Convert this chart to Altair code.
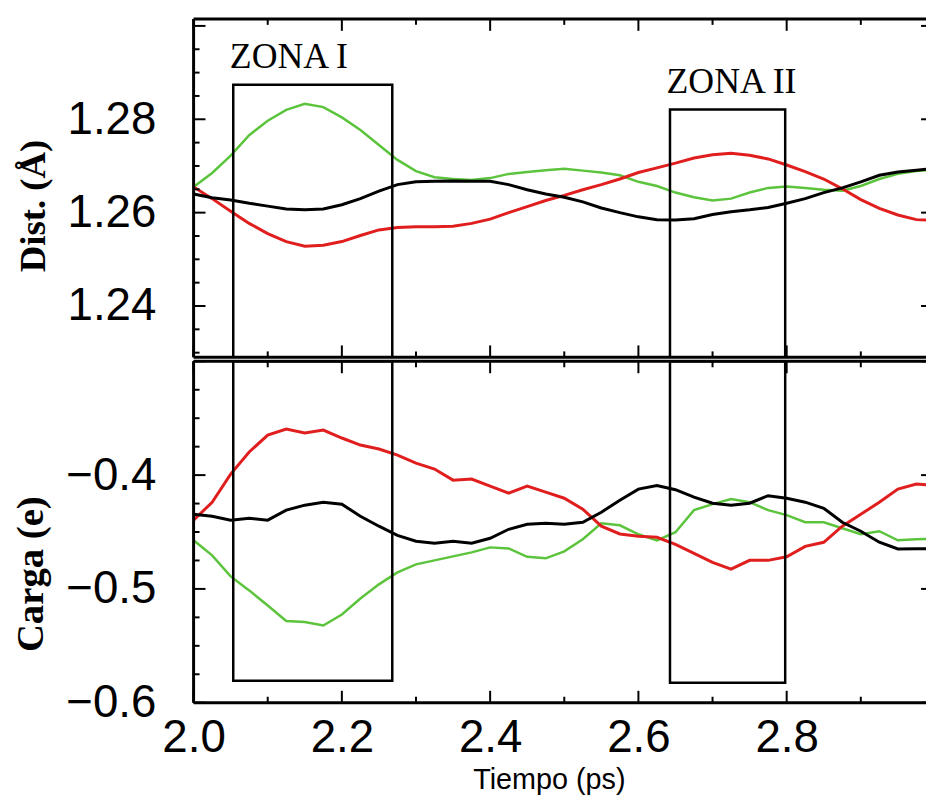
import altair as alt
import pandas as pd

# ---------------- data ----------------
# the last sample is read at the right edge of the picture (t = 2.988)
T = [2.000, 2.025, 2.050, 2.075, 2.100, 2.125, 2.150, 2.175, 2.200, 2.225,
     2.250, 2.275, 2.300, 2.325, 2.350, 2.375, 2.400, 2.425, 2.450, 2.475,
     2.500, 2.525, 2.550, 2.575, 2.600, 2.625, 2.650, 2.675, 2.700, 2.725,
     2.750, 2.775, 2.800, 2.825, 2.850, 2.875, 2.900, 2.925, 2.950, 2.975, 2.988]

DIST_NEGRO = [1.2640, 1.2632, 1.2627, 1.2620, 1.2614, 1.2608, 1.2606, 1.2608, 1.2617, 1.2630,
              1.2646, 1.2660, 1.2666, 1.2667, 1.2668, 1.2667, 1.2667, 1.2660, 1.2649, 1.2640,
              1.2633, 1.2623, 1.2610, 1.2600, 1.2591, 1.2585, 1.2584, 1.2587, 1.2596, 1.2602,
              1.2606, 1.2611, 1.2620, 1.2630, 1.2643, 1.2653, 1.2666, 1.2680, 1.2687, 1.2691, 1.2693]
DIST_ROJO = [1.2655, 1.2630, 1.2603, 1.2577, 1.2555, 1.2538, 1.2528, 1.2530, 1.2538, 1.2551,
             1.2563, 1.2568, 1.2570, 1.2570, 1.2571, 1.2577, 1.2586, 1.2600, 1.2613, 1.2626,
             1.2637, 1.2649, 1.2660, 1.2672, 1.2686, 1.2696, 1.2706, 1.2717, 1.2724, 1.2727,
             1.2723, 1.2715, 1.2702, 1.2688, 1.2672, 1.2651, 1.2628, 1.2609, 1.2595, 1.2585, 1.2584]
DIST_VERDE = [1.2655, 1.2685, 1.2722, 1.2766, 1.2797, 1.2820, 1.2833, 1.2826, 1.2804, 1.2777,
              1.2745, 1.2713, 1.2689, 1.2676, 1.2672, 1.2670, 1.2674, 1.2683, 1.2687, 1.2691,
              1.2694, 1.2690, 1.2686, 1.2680, 1.2666, 1.2657, 1.2643, 1.2633, 1.2626, 1.2630,
              1.2643, 1.2653, 1.2656, 1.2653, 1.2649, 1.2647, 1.2657, 1.2672, 1.2683, 1.2689, 1.2691]

CARGA_NEGRO = [-0.4344, -0.4361, -0.4396, -0.4379, -0.4396, -0.4308, -0.4264, -0.4238, -0.4256, -0.4361,
               -0.4449, -0.4529, -0.4581, -0.4599, -0.4581, -0.4599, -0.4555, -0.4476, -0.4432, -0.4423,
               -0.4432, -0.4414, -0.4326, -0.4220, -0.4123, -0.4091, -0.4128, -0.4194, -0.4247, -0.4264,
               -0.4247, -0.4181, -0.4203, -0.4238, -0.4291, -0.4414, -0.4493, -0.4590, -0.4649, -0.4647, -0.4647]
CARGA_ROJO = [-0.4396, -0.4238, -0.3991, -0.3797, -0.3648, -0.3595, -0.3630, -0.3604, -0.3674, -0.3736,
              -0.3771, -0.3824, -0.3894, -0.3947, -0.4044, -0.4035, -0.4097, -0.4159, -0.4097, -0.4150,
              -0.4203, -0.4300, -0.4449, -0.4517, -0.4537, -0.4546, -0.4608, -0.4687, -0.4766, -0.4826,
              -0.4749, -0.4749, -0.4718, -0.4626, -0.4590, -0.4449, -0.4344, -0.4238, -0.4123, -0.4079, -0.4085]
CARGA_VERDE = [-0.4573, -0.4705, -0.4890, -0.5013, -0.5145, -0.5282, -0.5291, -0.5322, -0.5225, -0.5084,
               -0.4960, -0.4855, -0.4784, -0.4749, -0.4714, -0.4679, -0.4635, -0.4644, -0.4718, -0.4731,
               -0.4670, -0.4564, -0.4423, -0.4441, -0.4520, -0.4573, -0.4502, -0.4308, -0.4255, -0.4211,
               -0.4238, -0.4308, -0.4352, -0.4414, -0.4414, -0.4467, -0.4520, -0.4493, -0.4573, -0.4564, -0.4561]

ZONA_NOMBRE = ["ZONA I", "ZONA II"]
ZONA_INICIO = [2.0535, 2.6426]
ZONA_FIN = [2.268, 2.798]
ZONA_TOPE = [1.2874, 1.2821]       # top of box (Dist. scale)
ZONA_FONDO = [-0.5806, -0.5824]    # bottom of box (Carga scale)
ZONA_TEXTO_X = [2.1285, 2.7256]
ZONA_TEXTO_Y = [1.2910, 1.2857]

X_LABELS = [2.0, 2.2, 2.4, 2.6, 2.8]
X_MAJOR = [2.0, 2.2, 2.4, 2.6, 2.8]
X_MINOR = [2.1, 2.3, 2.5, 2.7, 2.9]
Y1_LABELS = [1.24, 1.26, 1.28]
Y1_MAJOR = [1.24, 1.26, 1.28, 1.30]
Y1_MINOR = [1.230, 1.235, 1.245, 1.250, 1.255, 1.265, 1.270, 1.275, 1.285, 1.290, 1.295]
Y2_LABELS = [-0.6, -0.5, -0.4]
Y2_MAJOR = [-0.6, -0.5, -0.4, -0.3]
Y2_MINOR = [-0.575, -0.55, -0.525, -0.475, -0.45, -0.425, -0.375, -0.35, -0.325]

SERIES = ["verde", "rojo", "negro"]
COLORES = {"verde": "#5cc43c", "rojo": "#e01e1e", "negro": "#000000"}
GROSOR = {"verde": 2.5, "rojo": 3, "negro": 3}

# ---------------- layout ----------------
W, H1, H2 = 738, 341, 344
X_MAX = 2.0 + W / 747.0          # the original axis runs past the right edge of the picture
xscale = alt.Scale(domain=[2.0, X_MAX], nice=False, zero=False)
y1scale = alt.Scale(domain=[1.229, 1.3015], nice=False, zero=False)
y2scale = alt.Scale(domain=[-0.6, -0.3], nice=False, zero=False)

dist = pd.DataFrame({"t": T, "negro": DIST_NEGRO, "rojo": DIST_ROJO, "verde": DIST_VERDE})
carga = pd.DataFrame({"t": T, "negro": CARGA_NEGRO, "rojo": CARGA_ROJO, "verde": CARGA_VERDE})
zonas = pd.DataFrame({"nombre": ZONA_NOMBRE, "x0": ZONA_INICIO, "x1": ZONA_FIN,
                      "tope": ZONA_TOPE, "fondo": ZONA_FONDO,
                      "tx": ZONA_TEXTO_X, "ty": ZONA_TEXTO_Y,
                      "ymin1": [1.229, 1.229], "ymax2": [-0.3, -0.3]})
one = pd.DataFrame({"k": [0]})

y1axis = alt.Axis(values=Y1_LABELS, format=".2f", labelFont="Liberation Sans", labelFontSize=46,
                  labelColor="black", labelPadding=38, ticks=False, tickSize=0, domain=False,
                  grid=False, title="Dist. (Å)", titleFont="Liberation Serif", titleFontWeight="bold",
                  titleFontSize=37, titleColor="black", titleAngle=270, titleX=-161, titleY=188,
                  titleAlign="center", titleBaseline="middle")
y2axis = alt.Axis(values=Y2_LABELS, format=".1f", labelFont="Liberation Sans", labelFontSize=46,
                  labelColor="black", labelPadding=38, ticks=False, tickSize=0, domain=False,
                  grid=False, title="Carga (e)", titleFont="Liberation Serif", titleFontWeight="bold",
                  titleFontSize=39, titleColor="black", titleAngle=270, titleX=-164, titleY=214,
                  titleAlign="center", titleBaseline="middle")
x2axis = alt.Axis(values=X_LABELS, format=".1f", labelFont="Liberation Sans", labelFontSize=46,
                  labelColor="black", labelPadding=13, labelFlush=False, labelOverlap=False,
                  ticks=False, tickSize=0, domain=False, grid=False, title="Tiempo (ps)",
                  titleFont="Liberation Sans", titleFontSize=29, titleFontWeight="normal",
                  titleColor="black", titleX=358, titleY=86, titleBaseline="alphabetic",
                  titleAlign="center")


def panel(df, yscale, yaxis, xaxis, H, ymajor, yminor, rect_y, rect_y2, with_text):
    layers = []
    for s in SERIES:
        layers.append(
            alt.Chart(df).mark_line(color=COLORES[s], strokeWidth=GROSOR[s], clip=True).encode(
                x=alt.X("t:Q", scale=xscale, axis=xaxis),
                y=alt.Y(f"{s}:Q", scale=yscale, axis=yaxis),
            )
        )
    # zone boxes
    layers.append(
        alt.Chart(zonas).mark_rect(fillOpacity=0, stroke="black", strokeWidth=2.5, clip=True).encode(
            x=alt.X("x0:Q", scale=xscale, axis=xaxis), x2="x1:Q",
            y=alt.Y(f"{rect_y}:Q", scale=yscale, axis=yaxis), y2=f"{rect_y2}:Q",
        )
    )
    if with_text:
        layers.append(
            alt.Chart(zonas).mark_text(font="Liberation Serif", fontSize=36, align="center",
                                       baseline="alphabetic", color="black").encode(
                x=alt.X("tx:Q", scale=xscale, axis=xaxis),
                y=alt.Y("ty:Q", scale=yscale, axis=yaxis),
                text="nombre:N",
            )
        )
    # inward ticks on x (top and bottom edges)
    for vals, L in ((X_MAJOR, 12), (X_MINOR, 6)):
        d = pd.DataFrame({"t": vals})
        base = alt.Chart(d).mark_rule(color="black", strokeWidth=2)
        layers.append(base.encode(x=alt.X("t:Q", scale=xscale, axis=xaxis), y=alt.value(0), y2=alt.value(L)))
        layers.append(base.encode(x=alt.X("t:Q", scale=xscale, axis=xaxis), y=alt.value(H), y2=alt.value(H - L)))
    # inward ticks on y (left edge; only the tail of the major ones shows on the right edge)
    for vals, L in ((ymajor, 12), (yminor, 6)):
        d = pd.DataFrame({"v": vals})
        base = alt.Chart(d).mark_rule(color="black", strokeWidth=2)
        layers.append(base.encode(y=alt.Y("v:Q", scale=yscale, axis=yaxis), x=alt.value(0), x2=alt.value(L)))
    d = pd.DataFrame({"v": ymajor})
    layers.append(alt.Chart(d).mark_rule(color="black", strokeWidth=2).encode(
        y=alt.Y("v:Q", scale=yscale, axis=yaxis), x=alt.value(W - 5), x2=alt.value(W)))
    # frame: top, bottom and left (the right side is cut off in the original)
    frame = alt.Chart(one).mark_rule(color="black", strokeWidth=3)
    layers.append(frame.encode(x=alt.value(0), x2=alt.value(W), y=alt.value(0)))
    layers.append(frame.encode(x=alt.value(0), x2=alt.value(W), y=alt.value(H)))
    layers.append(frame.encode(x=alt.value(0), y=alt.value(0), y2=alt.value(H)))
    return alt.layer(*layers).properties(width=W, height=H)


top = panel(dist, y1scale, y1axis, None, H1, Y1_MAJOR, Y1_MINOR, "tope", "ymin1", True)
bottom = panel(carga, y2scale, y2axis, x2axis, H2, Y2_MAJOR, Y2_MINOR, "ymax2", "fondo", False)

chart = alt.vconcat(top, bottom, spacing=0).properties(
    padding={"left": 4, "top": 6, "right": 0, "bottom": 0}
).configure_view(strokeWidth=0)

chart.save("out.html", embed_options={"renderer": "svg", "actions": False})
